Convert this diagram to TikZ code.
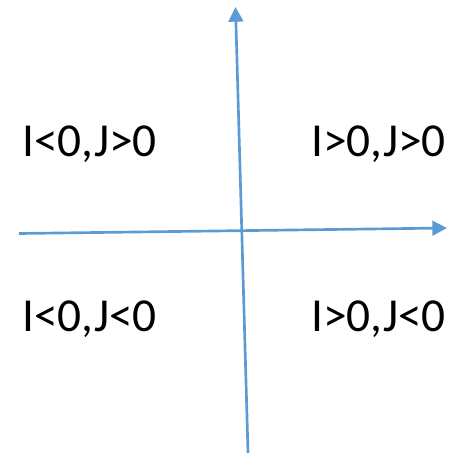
\documentclass[tikz,border=0pt]{standalone}
\usepackage{fontspec}
\setmainfont{Carlito}
\usetikzlibrary{arrows.meta}
\definecolor{axisblue}{HTML}{5B9BD5}
\begin{document}
\begin{tikzpicture}[x=0.75pt,y=-0.75pt,
  axis/.style={draw=axisblue,line width=2pt,-{Triangle[length=11pt,width=11pt]}},
  lbl/.style={font=\fontsize{35.5}{42}\selectfont,inner sep=0pt}]
\useasboundingbox (0,0) rectangle (450,453);
\coordinate (xs) at (19,233.5);
\coordinate (xe) at (447,228);
\coordinate (ys) at (248,453);
\coordinate (ye) at (235.5,7);
\draw[axis] (xs) -- (xe);
\draw[axis] (ys) -- (ye);
\node[lbl,anchor=base west] (q2) at (22,156) {I<0,J>0};
\node[lbl,anchor=base east] (q1) at (446,156) {I>0,J>0};
\node[lbl,anchor=base west] (q3) at (22,331) {I<0,J<0};
\node[lbl,anchor=base east] (q4) at (446,331) {I>0,J<0};
\end{tikzpicture}
\end{document}
